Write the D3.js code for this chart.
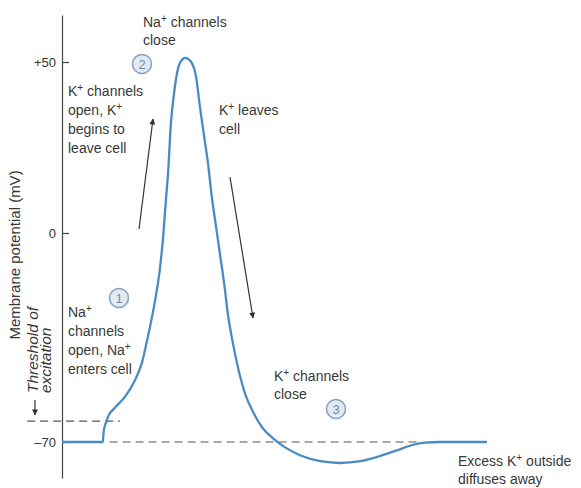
<!DOCTYPE html>
<html lang="en">
<head>
    <meta charset="UTF-8">
    <title>Action potential</title>
    <script src="https://cdn.jsdelivr.net/npm/d3@7/dist/d3.min.js"></script>
    <style>
        body { margin: 0; background: #fff; }
        svg { display: block; }
        text { font-family: "Liberation Sans", Arial, sans-serif; fill: #383838; }
        .axis text { font-size: 13px; fill: #333; }
        .axis path, .axis line { stroke: #444; stroke-width: 1.2px; }
        .note { font-size: 14px; }
    </style>
</head>
<body>
<script>

    /******* DATA *******/
    // Time (ms, arbitrary) and membrane potential (mV)
    const timeMs = [0, 0.48, 0.49, 0.52, 0.55, 0.62, 0.74, 0.86, 0.94, 1.01, 1.09, 1.15, 1.19,
        1.22, 1.25, 1.28, 1.32, 1.36, 1.41, 1.45,
        1.52, 1.58, 1.62, 1.67, 1.72, 1.76, 1.81, 1.86, 1.91, 1.95, 2.01, 2.08, 2.16,
        2.26, 2.36, 2.48, 2.62, 2.80, 3.04, 3.27, 3.51, 3.74, 3.95, 4.12, 4.27, 4.45, 5.00];
    const potentialMv = [-70, -70, -66.6, -63.3, -61.0, -58.6, -54.9, -49.2, -43.5, -34.8, -23.4, -12.4, -1.3,
        8.8, 18.4, 31.6, 41.2, 47.6, 50.6, 51.2,
        50.0, 45.3, 37.4, 28.6, 19.9, 11.1, 2.3, -7.4, -17.4, -26.8, -36.8, -46.2, -54.3,
        -60.6, -65.3, -68.7, -71.7, -74.4, -76.4, -77.0, -76.4, -74.7, -72.7, -71.0, -70.2, -70, -70];

    const tickValues = [-70, 0, 50];
    const tickLabels = ["\u201370", "0", "+50"];
    const restingMv = -70;
    const thresholdMv = -63;
    const restSpan = [0.56, 4.22];        // ms
    const thresholdSpan = [-0.41, 0.68];  // ms

    const yLabel = "Membrane potential (mV)";
    const thresholdLabel = ["Threshold of", "excitation"];

    // {+} marks a superscript plus
    const notes = [
        ["Na{+} channels", "close"],
        ["K{+} channels", "open, K{+}", "begins to", "leave cell"],
        ["K{+} leaves", "cell"],
        ["Na{+}", "channels", "open, Na{+}", "enters cell"],
        ["K{+} channels", "close"],
        ["Excess K{+} outside", "diffuses away"]
    ];
    const steps = ["1", "2", "3"];

    /******* STYLING/FORMATTING *******/
    const width = 581;
    const height = 488;
    const svg = d3.select("body").append("svg")
        .attr("width", width)
        .attr("height", height);

    const blue = "#4a8bc3";

    // x: time, y: schematic (piecewise) voltage scale
    const xScale = d3.scaleLinear()
        .domain([0, 5])
        .range([62, 487]);
    const yScale = d3.scaleLinear()
        .domain([-82, -70, 0, 50, 63.7])
        .range([478, 442, 233, 62, 15]);

    /******* AXIS *******/
    const yAxis = d3.axisLeft(yScale)
        .tickValues(tickValues)
        .tickFormat((d, i) => tickLabels[i])
        .tickSizeInner(-7)
        .tickSizeOuter(0)
        .tickPadding(6);
    svg.append("g")
        .attr("class", "axis")
        .attr("transform", `translate(${xScale(0)},0)`)
        .call(yAxis);

    svg.append("text")
        .attr("transform", `translate(20,255) rotate(-90)`)
        .attr("text-anchor", "middle")
        .style("font-size", "15px")
        .text(yLabel);

    thresholdLabel.forEach((t, i) => {
        svg.append("text")
            .attr("transform", `translate(${38 + i * 13},393) rotate(-90)`)
            .style("font-size", "15.5px")
            .style("font-style", "italic")
            .text(t);
    });

    // arrowhead
    svg.append("defs").append("marker")
        .attr("id", "head")
        .attr("viewBox", "0 0 10 10")
        .attr("refX", 9).attr("refY", 5)
        .attr("markerWidth", 8).attr("markerHeight", 6)
        .attr("markerUnits", "userSpaceOnUse")
        .attr("orient", "auto")
        .append("path")
        .attr("d", "M0,0L10,5L0,10Z")
        .attr("fill", "#333");

    // small arrow pointing down to the threshold line
    svg.append("line")
        .attr("x1", 35).attr("x2", 35)
        .attr("y1", 400).attr("y2", 415)
        .attr("stroke", "#333").attr("stroke-width", 1.2)
        .attr("marker-end", "url(#head)");

    /******* DASHED REFERENCE LINES *******/
    svg.append("line")
        .attr("x1", xScale(thresholdSpan[0])).attr("x2", xScale(thresholdSpan[1]))
        .attr("y1", yScale(thresholdMv)).attr("y2", yScale(thresholdMv))
        .attr("stroke", "#555").attr("stroke-width", 1.2)
        .attr("stroke-dasharray", "8,5");
    svg.append("line")
        .attr("x1", xScale(restSpan[0])).attr("x2", xScale(restSpan[1]))
        .attr("y1", yScale(restingMv)).attr("y2", yScale(restingMv))
        .attr("stroke", "#555").attr("stroke-width", 1.2)
        .attr("stroke-dasharray", "8,5");

    /******* TRACE *******/
    const trace = timeMs.map((t, i) => ({t: t, v: potentialMv[i]}));
    const lineGen = d3.line()
        .x(d => xScale(d.t))
        .y(d => yScale(d.v))
        .curve(d3.curveMonotoneX);
    svg.append("path")
        .datum(trace)
        .attr("d", lineGen)
        .attr("fill", "none")
        .attr("stroke", blue)
        .attr("stroke-width", 2.3);

    /******* ARROWS *******/
    const arrows = [[139, 229, 153, 119], [230, 177, 253, 318]];
    arrows.forEach(a => {
        svg.append("line")
            .attr("x1", a[0]).attr("y1", a[1])
            .attr("x2", a[2]).attr("y2", a[3])
            .attr("stroke", "#333").attr("stroke-width", 1.2)
            .attr("marker-end", "url(#head)");
    });

    /******* NOTES *******/
    const notePos = [[143, 27, 18], [68, 96, 19], [219, 115, 19], [68, 317, 19], [274, 381, 18], [458, 466, 18]];
    notes.forEach((lines, n) => {
        const [x, y, dy] = notePos[n];
        lines.forEach((line, i) => {
            const txt = svg.append("text")
                .attr("class", "note")
                .attr("x", x)
                .attr("y", y + i * dy);
            line.split(/(\{\+\})/).forEach(part => {
                if (part === "{+}") {
                    txt.append("tspan")
                        .attr("baseline-shift", "super")
                        .style("font-size", "10px")
                        .text("+");
                } else if (part) {
                    txt.append("tspan").text(part);
                }
            });
        });
    });

    /******* STEP CIRCLES *******/
    const circlePos = [[119, 298], [142, 64], [336, 409]];
    steps.forEach((s, i) => {
        const g = svg.append("g").attr("transform", `translate(${circlePos[i][0]},${circlePos[i][1]})`);
        g.append("circle")
            .attr("r", 9.5)
            .attr("fill", "#e3eaf1")
            .attr("stroke", "#86a3c2")
            .attr("stroke-width", 1.6);
        g.append("text")
            .attr("text-anchor", "middle")
            .attr("dy", "0.36em")
            .style("font-size", "13px")
            .style("fill", "#6d8db3")
            .text(s);
    });

</script>
</body>
</html>
